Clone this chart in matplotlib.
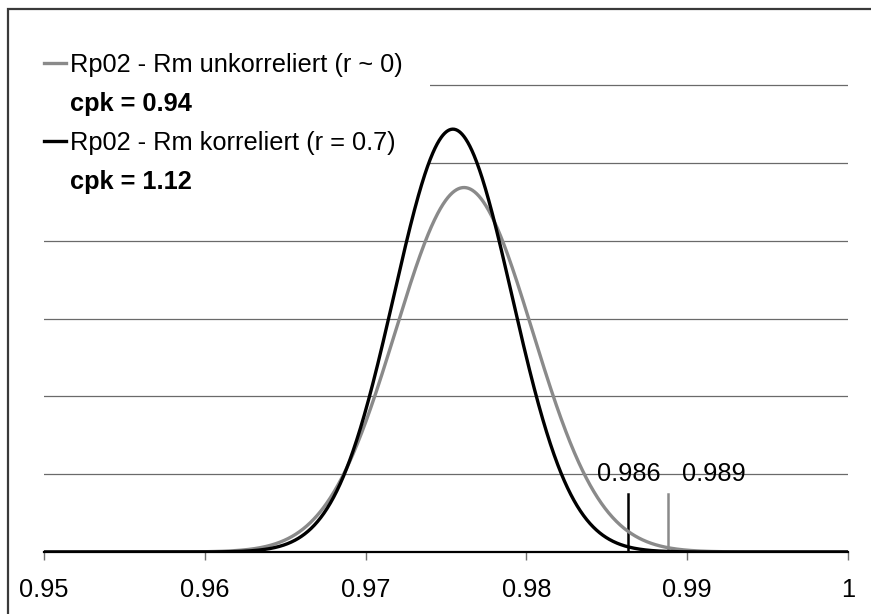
import numpy as np
import matplotlib
matplotlib.use("Agg")
import matplotlib.pyplot as plt
from matplotlib.lines import Line2D
from matplotlib.patches import Rectangle

plt.rcParams['font.family'] = ['Liberation Sans', 'DejaVu Sans']

# Normal distributions of the Rp02/Rm ratio
series_labels = ["Rp02 - Rm unkorreliert (r ~ 0)", "Rp02 - Rm korreliert (r = 0.7)"]
cpk_labels = ["cpk = 0.94", "cpk = 1.12"]
means = [0.97612, 0.97543]
sigmas = [0.004258, 0.003670]
colors = ["#8a8a8a", "#000000"]

# Upper 3-sigma limits, marked with short vertical lines
limit_values = [0.98879, 0.98634]
limit_height = 15

xtick_values = [0.95, 0.96, 0.97, 0.98, 0.99, 1.0]
xtick_labels = ["0.95", "0.96", "0.97", "0.98", "0.99", "1"]
grid_values = [20, 40, 60, 80, 100, 120]

FS = 18.3
W, H = 871, 614
fig = plt.figure(figsize=(W / 100, H / 100), dpi=100)
ax = fig.add_axes([44 / W, (H - 552) / H, 804 / W, 544.6 / H])
ax.set_xlim(0.95, 1.0)
ax.set_ylim(0, 140)

for g in grid_values:
    ax.axhline(g, color="#6a6a6a", lw=0.9, zorder=1)

# white panel behind the legend text
ax.add_patch(Rectangle((0, 1 - 210 / 544.6), 386 / 804, 210 / 544.6,
                       transform=ax.transAxes, facecolor="white",
                       edgecolor="none", zorder=2))

x = np.linspace(0.95, 1.0, 1500)
for m, s, c in zip(means, sigmas, colors):
    y = np.exp(-0.5 * ((x - m) / s) ** 2) / (s * np.sqrt(2 * np.pi))
    ax.plot(x, y, color=c, lw=2.4, zorder=4, solid_capstyle="butt")

for v, c in zip(limit_values, colors):
    ax.plot([v, v], [0, limit_height], color=c, lw=1.8, zorder=3)

ax.annotate(f"{limit_values[1]:.3f}", (limit_values[1], 20), ha="center",
            va="center", fontsize=FS, zorder=5)
ax.annotate(f"{limit_values[0]:.3f}", (limit_values[0], 20), xytext=(10, 0),
            textcoords="offset points", ha="left", va="center",
            fontsize=FS, zorder=5)

for side in ["left", "right", "top"]:
    ax.spines[side].set_visible(False)
ax.spines["bottom"].set_color("black")
ax.spines["bottom"].set_linewidth(1.6)
ax.spines["bottom"].set_zorder(5)
ax.set_yticks([])
ax.set_xticks(xtick_values)
ax.set_xticklabels(xtick_labels)
ax.tick_params(axis="x", direction="out", length=6, width=1.0,
               color="#707070", labelsize=FS, pad=13)

handles = [Line2D([], [], color=colors[0], lw=2.4),
           Line2D([], [], color="none"),
           Line2D([], [], color=colors[1], lw=2.4),
           Line2D([], [], color="none")]
labels = [series_labels[0], cpk_labels[0], series_labels[1], cpk_labels[1]]
leg = ax.legend(handles, labels, loc="upper left", bbox_to_anchor=(0.0, 0.917),
                frameon=False, fontsize=FS, handlelength=0.88,
                handletextpad=0.14, labelspacing=0.6, borderpad=0.0,
                borderaxespad=0.0)
leg.set_zorder(6)
for i in (1, 3):
    leg.get_texts()[i].set_fontweight("bold")

# outer chart border
fig.add_artist(Rectangle((8 / W, -0.1), 1.2, (H - 9) / H + 0.1,
                         transform=fig.transFigure, fill=False,
                         edgecolor="#3a3a3a", lw=1.6))

fig.savefig("out.png", dpi=100)
